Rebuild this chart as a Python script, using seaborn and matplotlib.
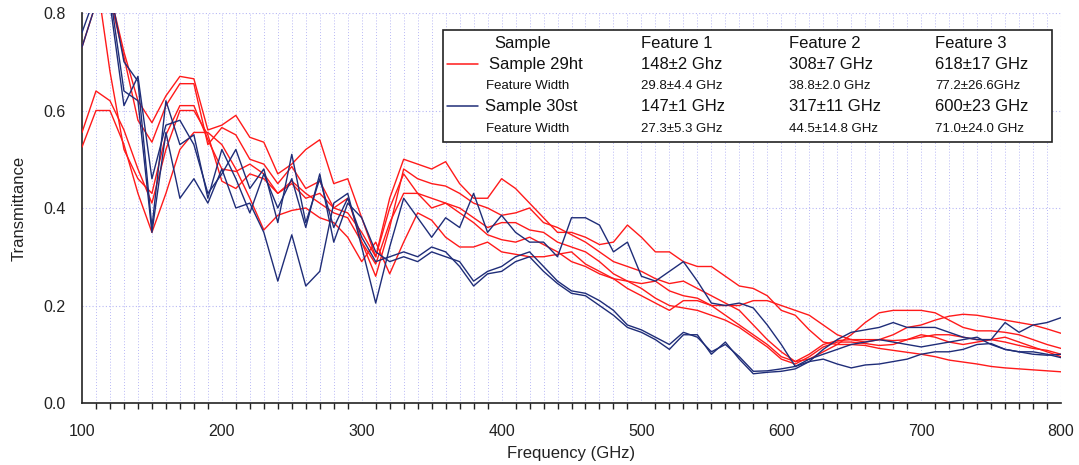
import numpy as np
import pandas as pd
import matplotlib
matplotlib.use("Agg")
import matplotlib.pyplot as plt
import seaborn as sns
from matplotlib.lines import Line2D
from matplotlib.patches import Rectangle
from matplotlib.ticker import MultipleLocator

# ---------------- data ----------------
freq = list(range(100, 801, 10))

red_1 = [0.73, 0.82, 0.84, 0.72, 0.62, 0.575, 0.63, 0.67, 0.665, 0.56, 0.57,
         0.59, 0.545, 0.535, 0.47, 0.49, 0.52, 0.54, 0.45, 0.46, 0.38,
         0.30, 0.42, 0.50, 0.49, 0.48, 0.495, 0.45, 0.42, 0.42, 0.46,
         0.44, 0.41, 0.38, 0.35, 0.35, 0.34, 0.325, 0.33, 0.365, 0.34,
         0.31, 0.31, 0.29, 0.28, 0.28, 0.26, 0.24, 0.235, 0.22, 0.19,
         0.18, 0.15, 0.125, 0.12, 0.12, 0.118, 0.112, 0.108, 0.104, 0.10,
         0.095, 0.088, 0.084, 0.08, 0.075, 0.072, 0.07, 0.068, 0.066, 0.064]
red_2 = [0.88, 0.90, 0.83, 0.71, 0.58, 0.535, 0.61, 0.655, 0.655, 0.53, 0.565,
         0.55, 0.50, 0.49, 0.45, 0.485, 0.44, 0.455, 0.40, 0.42, 0.33,
         0.26, 0.36, 0.48, 0.46, 0.45, 0.445, 0.43, 0.41, 0.40, 0.385,
         0.39, 0.40, 0.37, 0.36, 0.345, 0.33, 0.31, 0.29, 0.28, 0.27,
         0.255, 0.245, 0.25, 0.235, 0.22, 0.205, 0.19, 0.16, 0.13, 0.105,
         0.085, 0.09, 0.105, 0.12, 0.14, 0.165, 0.185, 0.19, 0.19, 0.19,
         0.185, 0.17, 0.155, 0.148, 0.148, 0.145, 0.14, 0.13, 0.12, 0.112]
red_3 = [0.90, 0.88, 0.68, 0.52, 0.46, 0.43, 0.55, 0.61, 0.61, 0.54, 0.48,
         0.475, 0.49, 0.47, 0.43, 0.45, 0.42, 0.43, 0.40, 0.39, 0.35,
         0.30, 0.40, 0.47, 0.43, 0.40, 0.41, 0.40, 0.38, 0.36, 0.37,
         0.37, 0.355, 0.35, 0.33, 0.32, 0.31, 0.29, 0.265, 0.25, 0.245,
         0.25, 0.23, 0.22, 0.215, 0.20, 0.18, 0.16, 0.14, 0.12, 0.095,
         0.085, 0.10, 0.12, 0.128, 0.13, 0.13, 0.13, 0.128, 0.13, 0.135,
         0.14, 0.14, 0.135, 0.13, 0.13, 0.125, 0.118, 0.112, 0.108, 0.10]
red_4 = [0.555, 0.64, 0.62, 0.56, 0.48, 0.41, 0.52, 0.60, 0.60, 0.55, 0.455,
         0.44, 0.47, 0.46, 0.43, 0.455, 0.43, 0.41, 0.39, 0.38, 0.33,
         0.285, 0.37, 0.43, 0.43, 0.42, 0.41, 0.39, 0.37, 0.345, 0.335,
         0.33, 0.34, 0.325, 0.31, 0.29, 0.28, 0.265, 0.255, 0.25, 0.235,
         0.215, 0.20, 0.195, 0.19, 0.18, 0.17, 0.155, 0.135, 0.115, 0.09,
         0.08, 0.095, 0.115, 0.125, 0.125, 0.122, 0.118, 0.12, 0.13, 0.14,
         0.135, 0.125, 0.12, 0.125, 0.13, 0.135, 0.125, 0.115, 0.105, 0.095]
red_5 = [0.525, 0.60, 0.60, 0.53, 0.43, 0.35, 0.43, 0.52, 0.555, 0.555, 0.53,
         0.48, 0.42, 0.355, 0.385, 0.395, 0.40, 0.38, 0.37, 0.34, 0.29,
         0.33, 0.265, 0.33, 0.39, 0.375, 0.34, 0.32, 0.32, 0.33, 0.31,
         0.305, 0.30, 0.30, 0.305, 0.31, 0.285, 0.27, 0.255, 0.235, 0.22,
         0.205, 0.19, 0.21, 0.21, 0.20, 0.20, 0.20, 0.21, 0.21, 0.20,
         0.19, 0.18, 0.16, 0.14, 0.13, 0.125, 0.13, 0.14, 0.155, 0.16,
         0.17, 0.178, 0.182, 0.18, 0.175, 0.17, 0.165, 0.16, 0.152, 0.143]

blue_1 = [0.76, 0.84, 0.82, 0.61, 0.67, 0.46, 0.57, 0.58, 0.53, 0.43, 0.47,
          0.52, 0.44, 0.48, 0.37, 0.51, 0.37, 0.46, 0.36, 0.42, 0.34,
          0.29, 0.30, 0.31, 0.30, 0.32, 0.31, 0.28, 0.24, 0.265, 0.27,
          0.29, 0.30, 0.27, 0.245, 0.225, 0.22, 0.20, 0.18, 0.155, 0.145,
          0.13, 0.11, 0.14, 0.14, 0.10, 0.125, 0.09, 0.06, 0.063, 0.065,
          0.07, 0.085, 0.09, 0.08, 0.072, 0.078, 0.08, 0.085, 0.09, 0.10,
          0.105, 0.105, 0.11, 0.12, 0.122, 0.11, 0.105, 0.105, 0.10, 0.093]
blue_2 = [0.73, 0.82, 0.84, 0.64, 0.62, 0.35, 0.555, 0.42, 0.46, 0.41, 0.48,
          0.40, 0.41, 0.35, 0.25, 0.345, 0.24, 0.27, 0.41, 0.43, 0.32,
          0.205, 0.32, 0.42, 0.38, 0.34, 0.38, 0.36, 0.43, 0.35, 0.385,
          0.35, 0.33, 0.33, 0.30, 0.38, 0.38, 0.365, 0.31, 0.33, 0.26,
          0.25, 0.27, 0.29, 0.25, 0.205, 0.20, 0.205, 0.195, 0.16, 0.12,
          0.075, 0.085, 0.11, 0.13, 0.145, 0.15, 0.155, 0.165, 0.155, 0.155,
          0.155, 0.145, 0.135, 0.13, 0.13, 0.165, 0.145, 0.16, 0.165, 0.175]
blue_3 = [0.86, 0.90, 0.85, 0.70, 0.66, 0.36, 0.62, 0.53, 0.55, 0.42, 0.52,
          0.46, 0.39, 0.47, 0.40, 0.46, 0.36, 0.47, 0.33, 0.41, 0.38,
          0.31, 0.29, 0.30, 0.29, 0.31, 0.30, 0.29, 0.25, 0.27, 0.28,
          0.30, 0.31, 0.28, 0.25, 0.23, 0.225, 0.21, 0.19, 0.16, 0.15,
          0.135, 0.12, 0.145, 0.135, 0.105, 0.12, 0.095, 0.065, 0.066, 0.07,
          0.075, 0.09, 0.10, 0.11, 0.12, 0.125, 0.13, 0.125, 0.12, 0.115,
          0.12, 0.125, 0.13, 0.135, 0.12, 0.11, 0.105, 0.10, 0.098, 0.10]

series_names = ["Sample 29ht"] * 5 + ["Sample 30st"] * 3
series_values = [red_1, red_2, red_3, red_4, red_5, blue_1, blue_2, blue_3]

x_ticks = [100, 200, 300, 400, 500, 600, 700, 800]
y_ticks = [0.0, 0.2, 0.4, 0.6, 0.8]

legend_header = ["Sample", "Feature 1", "Feature 2", "Feature 3"]
legend_29ht = ["148\u00b12 Ghz", "308\u00b17 GHz", "618\u00b117 GHz"]
legend_29ht_w = ["29.8\u00b14.4 GHz", "38.8\u00b12.0 GHz", "77.2\u00b126.6GHz"]
legend_30st = ["147\u00b11 GHz", "317\u00b111 GHz", "600\u00b123 GHz"]
legend_30st_w = ["27.3\u00b15.3 GHz", "44.5\u00b114.8 GHz", "71.0\u00b124.0 GHz"]

# ---------------- build table ----------------
rows = []
for run, (name, vals) in enumerate(zip(series_names, series_values)):
    for f, v in zip(freq, vals):
        rows.append({"freq": f, "T": v, "sample": name, "run": run})
df = pd.DataFrame(rows)

RED = "#ff1a1a"
BLUE = "#1f2d78"
GRID = "#b8b8f5"

sns.set_theme(style="white")
plt.rcParams["font.family"] = ["Liberation Sans", "DejaVu Sans"]

W, H = 1079, 465
fig = plt.figure(figsize=(W / 100, H / 100), dpi=100)
ax = fig.add_axes([82 / W, 1 - 403 / H, (1061 - 82) / W, (403 - 13) / H])

sns.lineplot(data=df, x="freq", y="T", hue="sample", units="run",
             estimator=None, palette={"Sample 29ht": RED, "Sample 30st": BLUE},
             linewidth=1.0, legend=False, ax=ax, zorder=3)

ax.set_xlim(100, 800)
ax.set_ylim(0, 0.8)
ax.set_xticks(x_ticks)
ax.set_yticks(y_ticks)
ax.set_yticklabels([f"{t:.1f}" for t in y_ticks])
ax.xaxis.set_minor_locator(MultipleLocator(10))

# grid
for xv in range(110, 800, 10):
    ax.axvline(xv, color=GRID, lw=0.7, ls=(0, (1, 2)), zorder=1)
for yv in y_ticks[1:]:
    ax.axhline(yv, color=GRID, lw=0.8, ls=(0, (1, 2)), zorder=1)
ax.axvline(800, color=GRID, lw=0.8, ls=(0, (1, 2)), zorder=1)

for s in ["top", "right"]:
    ax.spines[s].set_visible(False)
for s in ["left", "bottom"]:
    ax.spines[s].set_color("#222222")
    ax.spines[s].set_linewidth(1.2)

ax.tick_params(axis="both", which="major", direction="out", length=7, width=1.1,
               color="#222222", labelsize=11.5, labelcolor="#222222")
ax.tick_params(axis="x", which="minor", direction="out", length=4, width=1.0,
               color="#222222", bottom=True)
ax.tick_params(axis="x", which="major", pad=8)
ax.tick_params(axis="y", which="major", pad=5)
ax.set_xlabel("Frequency (GHz)", fontsize=12, color="#222222", labelpad=5)
ax.set_ylabel("Transmittance", fontsize=12, color="#222222", labelpad=12)

# ---------------- custom legend table ----------------
def fx(px):
    return px / W

def fy(py):
    return 1 - py / H

box = Rectangle((fx(443), fy(142)), fx(1052) - fx(443), fy(30) - fy(142),
                transform=fig.transFigure, facecolor="white",
                edgecolor="#222222", lw=1.2, zorder=10)
fig.add_artist(box)

cols = [641, 789, 935]
big = 12
small = 9.5

def txt(x, y, s, size):
    fig.text(fx(x), fy(y), s, fontsize=size, color="#111111",
             ha="left", va="center", zorder=11)

txt(494, 43, legend_header[0], big)
for c, s in zip(cols, legend_header[1:]):
    txt(c, 43, s, big)

fig.add_artist(Line2D([fx(447), fx(478)], [fy(64), fy(64)], color=RED,
                      lw=1.1, transform=fig.transFigure, zorder=11))
txt(489, 64, "Sample 29ht", big)
for c, s in zip(cols, legend_29ht):
    txt(c, 64, s, big)

txt(486, 86, "Feature Width", small)
for c, s in zip(cols, legend_29ht_w):
    txt(c, 86, s, small)

fig.add_artist(Line2D([fx(447), fx(478)], [fy(106), fy(106)], color=BLUE,
                      lw=1.1, transform=fig.transFigure, zorder=11))
txt(485, 106, "Sample 30st", big)
for c, s in zip(cols, legend_30st):
    txt(c, 106, s, big)

txt(486, 129, "Feature Width", small)
for c, s in zip(cols, legend_30st_w):
    txt(c, 129, s, small)

fig.savefig("out.png", dpi=100)
